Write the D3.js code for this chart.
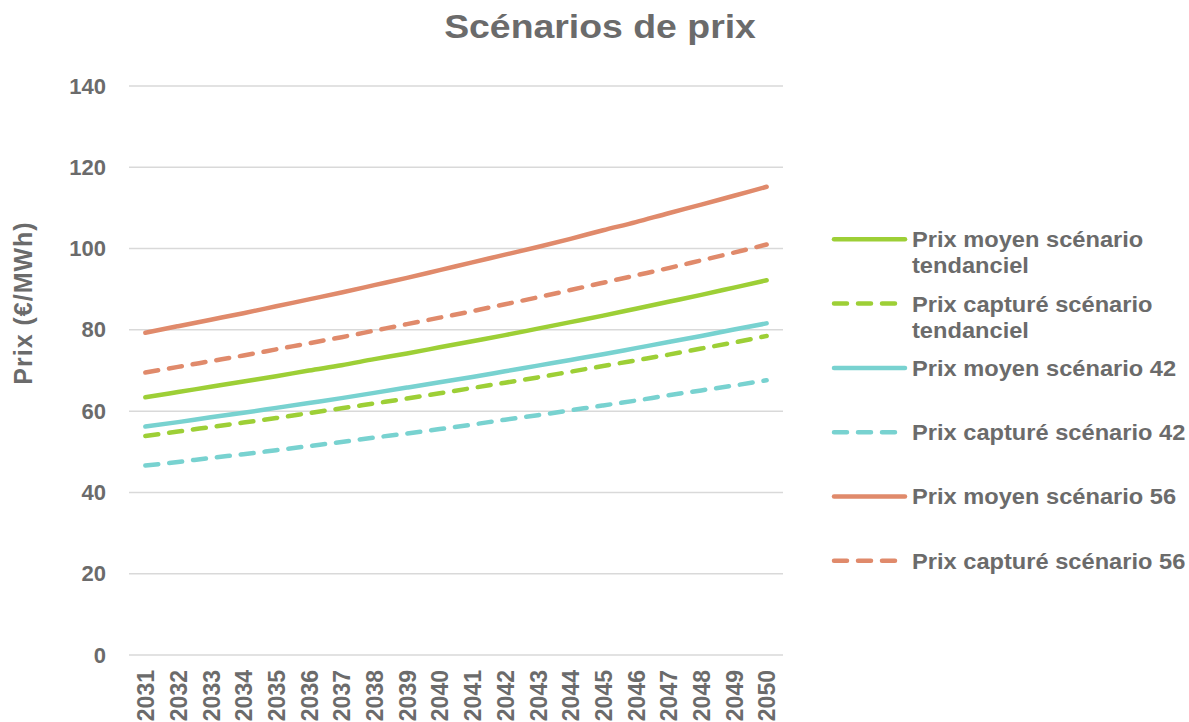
<!DOCTYPE html>
<html>
<head>
<meta charset="utf-8">
<script src="https://cdn.jsdelivr.net/npm/d3@7"></script>
<style>
  body { margin: 0; background: #fff; }
  text { font-family: "Liberation Sans", Arial, sans-serif; font-weight: bold; fill: #6b6b6b; }
</style>
</head>
<body>
<div id="chart"></div>
<script>
let years = ['2031', '2032', '2033', '2034', '2035', '2036', '2037', '2038', '2039', '2040',
  '2041', '2042', '2043', '2044', '2045', '2046', '2047', '2048', '2049', '2050']

let moyenTend = [63.4, 64.7, 66.0, 67.3, 68.6, 70.0, 71.3, 72.8, 74.2, 75.7, 77.2, 78.7, 80.3, 81.9, 83.5, 85.2, 86.9, 88.6, 90.4, 92.2]
let captureTend = [53.9, 55.0, 56.1, 57.2, 58.3, 59.5, 60.7, 61.9, 63.1, 64.4, 65.7, 67.0, 68.3, 69.7, 71.1, 72.5, 73.9, 75.4, 76.9, 78.5]
let moyen42 = [56.2, 57.3, 58.5, 59.6, 60.8, 62.0, 63.2, 64.5, 65.8, 67.1, 68.4, 69.8, 71.2, 72.6, 74.0, 75.5, 77.0, 78.5, 80.1, 81.6]
let capture42 = [46.6, 47.5, 48.5, 49.4, 50.4, 51.4, 52.4, 53.5, 54.5, 55.6, 56.7, 57.9, 59.0, 60.2, 61.4, 62.6, 63.9, 65.1, 66.3, 67.6]
let moyen56 = [79.3, 80.9, 82.5, 84.1, 85.8, 87.5, 89.2, 91.0, 92.8, 94.7, 96.6, 98.5, 100.4, 102.4, 104.5, 106.5, 108.7, 110.8, 113.0, 115.2]
let capture56 = [69.5, 70.9, 72.3, 73.7, 75.2, 76.7, 78.2, 79.8, 81.4, 83.0, 84.6, 86.3, 88.0, 89.8, 91.6, 93.4, 95.2, 97.1, 99.0, 101.0]

let yTicks = [0, 20, 40, 60, 80, 100, 120, 140]

let series = [
  { name: ['Prix moyen scénario', 'tendanciel'], values: moyenTend, color: '#9dcf36', dashed: false },
  { name: ['Prix capturé scénario', 'tendanciel'], values: captureTend, color: '#9dcf36', dashed: true },
  { name: ['Prix moyen scénario 42'], values: moyen42, color: '#78d2d0', dashed: false },
  { name: ['Prix capturé scénario 42'], values: capture42, color: '#78d2d0', dashed: true },
  { name: ['Prix moyen scénario 56'], values: moyen56, color: '#e08a6b', dashed: false },
  { name: ['Prix capturé scénario 56'], values: capture56, color: '#e08a6b', dashed: true }
]

let W = 1189
let H = 722
let margin = { top: 86, left: 129, right: 406, bottom: 67 }
let width = W - margin.left - margin.right
let height = H - margin.top - margin.bottom

let svgRoot = d3.select('#chart').append('svg')
  .attr('width', W)
  .attr('height', H)

// title (glyphs in the source are a bit wider than Liberation's)
svgRoot.append('text')
  .attr('transform', 'translate(600,38) scale(1.1,1)')
  .attr('text-anchor', 'middle')
  .style('font-size', '34px')
  .text('Scénarios de prix')

let svg = svgRoot.append('g')
  .attr('transform', 'translate(' + margin.left + ',' + margin.top + ')')

let x = d3.scalePoint().domain(years).range([0, width]).padding(0.5)
let y = d3.scaleLinear().domain([0, 140]).range([height, 0])

// grid
svg.append('g')
  .selectAll('line')
  .data(yTicks)
  .enter()
  .append('line')
  .attr('x1', 0)
  .attr('x2', width)
  .attr('y1', d => y(d))
  .attr('y2', d => y(d))
  .attr('stroke', '#d9d9d9')
  .attr('stroke-width', 1.5)

// y axis labels
let yAxis = svg.append('g')
  .call(d3.axisLeft(y).tickValues(yTicks).tickSize(0).tickPadding(23))
yAxis.select('.domain').remove()
yAxis.selectAll('text').style('font-size', '22px').attr('fill', '#6b6b6b')

// x axis labels
let xAxis = svg.append('g')
  .attr('transform', 'translate(0,' + height + ')')
  .call(d3.axisBottom(x).tickSize(0))
xAxis.select('.domain').remove()
xAxis.selectAll('text')
  .style('font-size', '23px')
  .attr('fill', '#6b6b6b')
  .attr('text-anchor', 'end')
  .attr('transform', 'rotate(-90)')
  .attr('x', -15)
  .attr('y', 0)
  .attr('dy', '0.36em')

svgRoot.append('text')
  .attr('transform', 'translate(32,303) rotate(-90)')
  .attr('text-anchor', 'middle')
  .style('font-size', '25px')
  .style('letter-spacing', '1px')
  .text('Prix (€/MWh)')

let line = d3.line()
  .x((d, i) => x(years[i]))
  .y(d => y(d))
  .curve(d3.curveMonotoneX)

svg.selectAll('.series')
  .data(series)
  .enter()
  .append('path')
  .attr('class', 'series')
  .attr('d', d => line(d.values))
  .attr('fill', 'none')
  .attr('stroke', d => d.color)
  .attr('stroke-width', 4.5)
  .attr('stroke-linecap', 'round')
  .attr('stroke-dasharray', d => d.dashed ? '13,11' : null)

// legend
let legend = svgRoot.append('g')
  .selectAll('.legend')
  .data(series)
  .enter()
  .append('g')
  .attr('class', 'legend')
  .attr('transform', (d, i) => 'translate(834,' + (239.3 + i * 64.3) + ')')

legend.append('line')
  .attr('x1', 0)
  .attr('x2', 71)
  .attr('stroke', d => d.color)
  .attr('stroke-width', 4.5)
  .attr('stroke-linecap', 'round')
  .attr('stroke-dasharray', d => d.dashed ? '13,11' : null)

legend.each(function(d) {
  let g = d3.select(this)
  d.name.forEach((t, j) => {
    g.append('text')
      .attr('transform', 'translate(78,' + (j * 26) + ') scale(1.075,1)')
      .attr('dy', '0.36em')
      .style('font-size', '22px')
      .text(t)
  })
})
</script>
</body>
</html>
